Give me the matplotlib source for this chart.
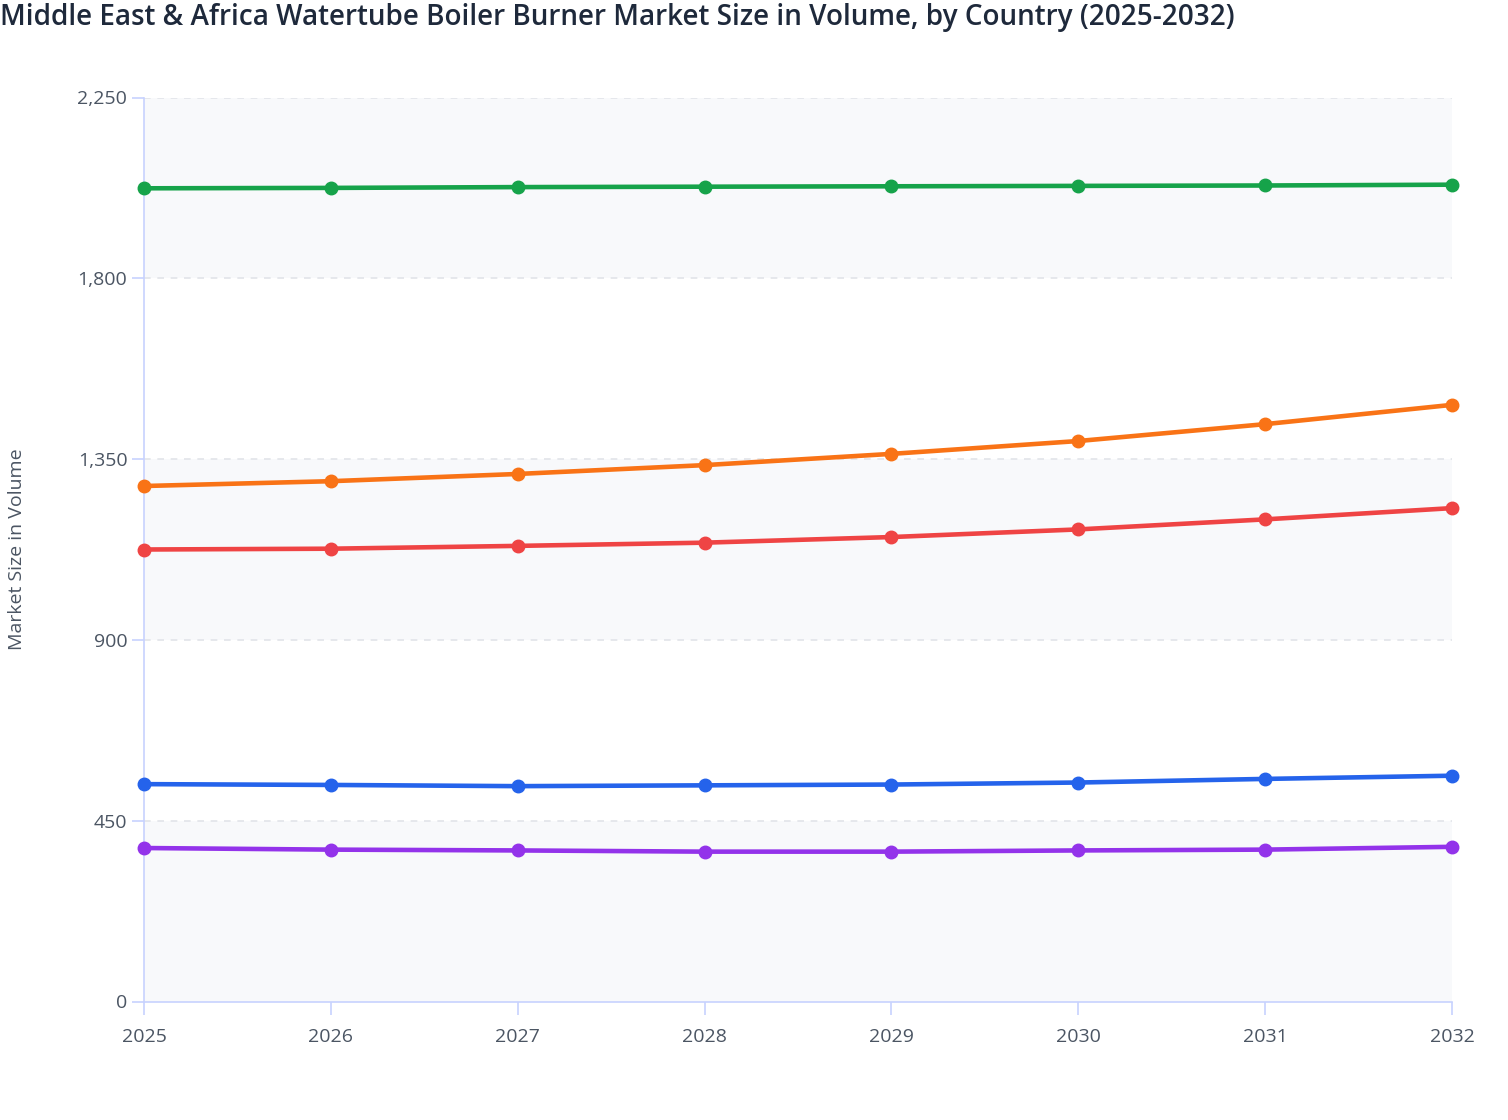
import matplotlib
matplotlib.use("Agg")
import matplotlib.pyplot as plt
from matplotlib.ticker import FuncFormatter

plt.rcParams['font.family'] = ['Open Sans', 'DejaVu Sans']

years = [2025, 2026, 2027, 2028, 2029, 2030, 2031, 2032]

# values (no legend in the source)
green = [2024, 2025, 2027, 2028, 2029, 2030, 2031, 2033]
orange = [1283, 1295, 1313, 1335, 1363, 1395, 1437, 1485]
red = [1125, 1127, 1134, 1142, 1156, 1175, 1200, 1228]
blue = [541, 539, 536, 538, 540, 545, 554, 562]
purple = [382, 378, 376, 373, 373, 376, 378, 385]

series = [
    (green, '#16a34a'),
    (orange, '#f97316'),
    (red, '#ef4444'),
    (blue, '#2563eb'),
    (purple, '#9333ea'),
]

y_ticks = [0, 450, 900, 1350, 1800, 2250]

fig = plt.figure(figsize=(15.08, 11.2), dpi=100)
ax = fig.add_axes([144 / 1508, 1 - 1001.5 / 1120, (1452 - 144) / 1508, (1001.5 - 97.5) / 1120])

# alternating bands
for i in range(len(y_ticks) - 1):
    if i % 2 == 0:
        ax.axhspan(y_ticks[i], y_ticks[i + 1], color='#f8f9fb', zorder=0, lw=0)
for t in y_ticks[1:]:
    ax.axhline(t, color='#e2e4e9', lw=1.2, ls=(0, (4, 4)), zorder=1)

for vals, col in series:
    ax.plot(years, vals, color=col, lw=3.3, marker='o', ms=9, zorder=3,
            clip_on=False, solid_capstyle='round')

ax.set_xlim(2025, 2032)
ax.set_ylim(0, 2250)
ax.set_xticks(years)
ax.set_yticks(y_ticks)
ax.yaxis.set_major_formatter(FuncFormatter(lambda v, p: f'{int(v):,}'))

for s in ['top', 'right']:
    ax.spines[s].set_visible(False)
for s in ['left', 'bottom']:
    ax.spines[s].set_color('#c7d2fe')
    ax.spines[s].set_linewidth(1.2)
ax.tick_params(axis='both', colors='#c7d2fe', width=1.2, length=9,
               labelcolor='#4b5563', labelsize=14)
ax.tick_params(axis='x', pad=10)
ax.tick_params(axis='y', pad=3)

ax.set_ylabel('Market Size in Volume', fontsize=14, color='#4b5563')
ax.yaxis.set_label_coords(-(144 - 26) / (1452 - 144), 0.5)

fig.text(0.0, 1 - 18 / 1120, 'Middle East & Africa Watertube Boiler Burner Market Size in Volume, by Country (2025-2032)',
         fontsize=20.1, color='#1e293b', ha='left', va='center', fontweight='semibold')

fig.savefig('out.png', dpi=100, facecolor='white')
